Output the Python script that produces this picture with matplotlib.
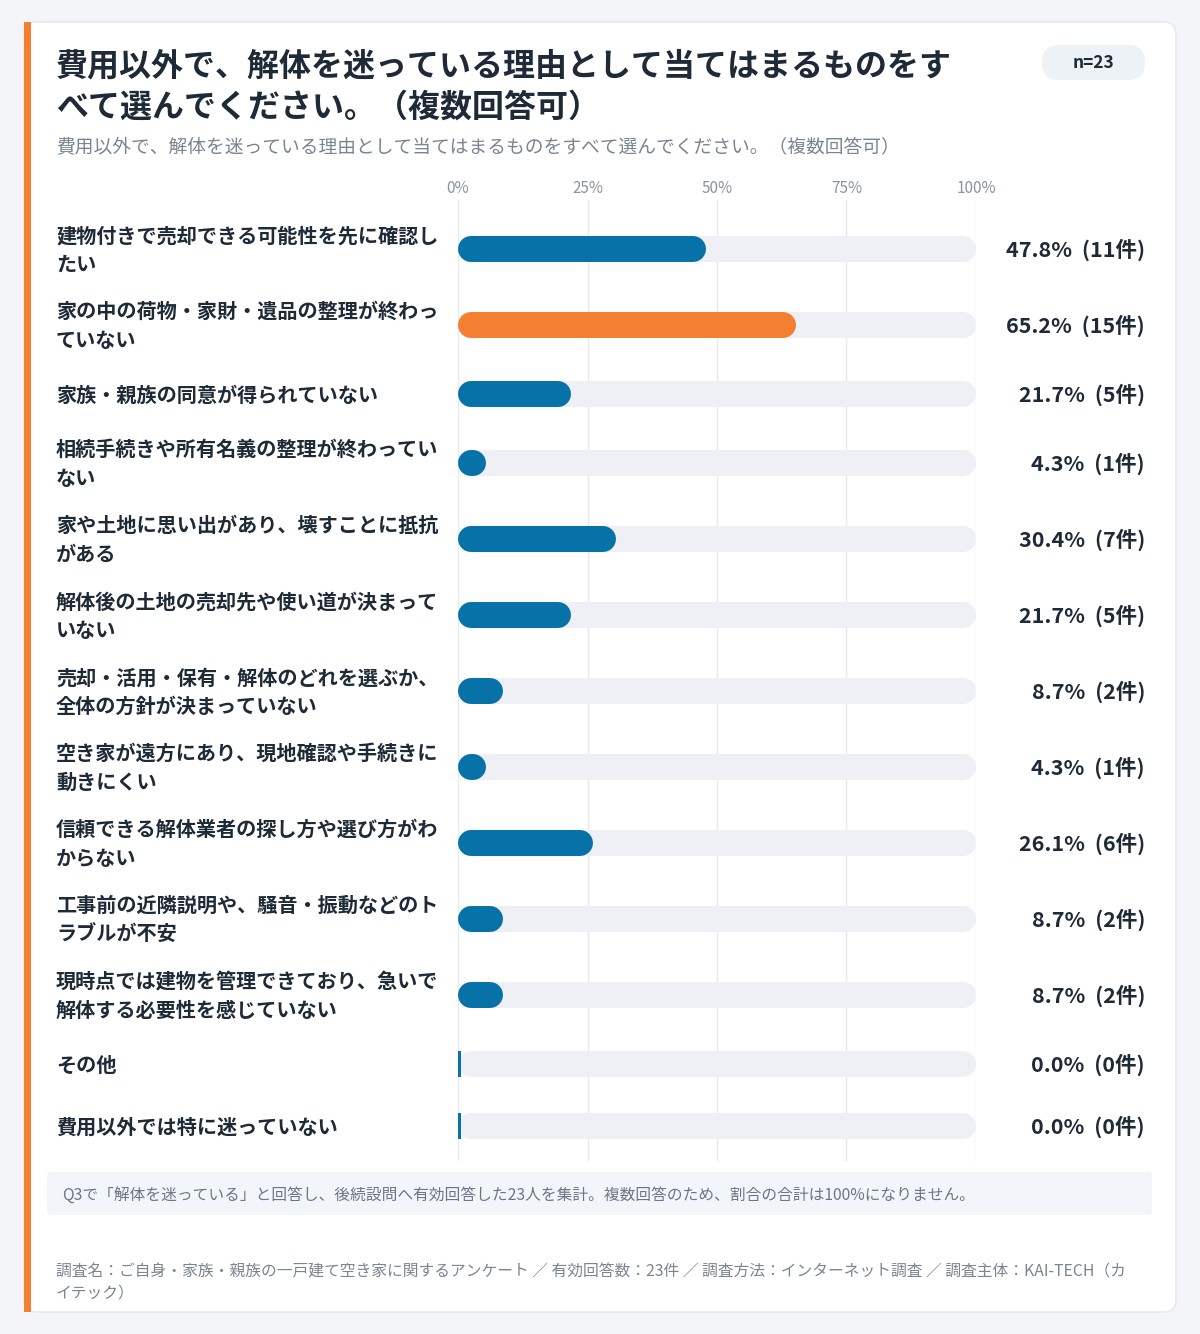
import matplotlib
matplotlib.use("Agg")
import matplotlib.pyplot as plt
from matplotlib.patches import FancyBboxPatch, Rectangle

plt.rcParams['font.family'] = ['Noto Sans CJK JP', 'DejaVu Sans']
plt.rcParams['path.simplify'] = False

# ---------------- data ----------------
title = "費用以外で、解体を迷っている理由として当てはまるものをす\nべて選んでください。（複数回答可）"
subtitle = "費用以外で、解体を迷っている理由として当てはまるものをすべて選んでください。（複数回答可）"
badge = "n=23"
categories = [
    "建物付きで売却できる可能性を先に確認し\nたい",
    "家の中の荷物・家財・遺品の整理が終わっ\nていない",
    "家族・親族の同意が得られていない",
    "相続手続きや所有名義の整理が終わってい\nない",
    "家や土地に思い出があり、壊すことに抵抗\nがある",
    "解体後の土地の売却先や使い道が決まって\nいない",
    "売却・活用・保有・解体のどれを選ぶか、\n全体の方針が決まっていない",
    "空き家が遠方にあり、現地確認や手続きに\n動きにくい",
    "信頼できる解体業者の探し方や選び方がわ\nからない",
    "工事前の近隣説明や、騒音・振動などのト\nラブルが不安",
    "現時点では建物を管理できており、急いで\n解体する必要性を感じていない",
    "その他",
    "費用以外では特に迷っていない",
]
counts = [11, 15, 5, 1, 7, 5, 2, 1, 6, 2, 2, 0, 0]
total = 23
tick_values = [0, 25, 50, 75, 100]
tick_labels = ["0%", "25%", "50%", "75%", "100%"]
note = "Q3で「解体を迷っている」と回答し、後続設問へ有効回答した23人を集計。複数回答のため、割合の合計は100%になりません。"
footer = "調査名：ご自身・家族・親族の一戸建て空き家に関するアンケート ／ 有効回答数：23件 ／ 調査方法：インターネット調査 ／ 調査主体：KAI-TECH（カ\nイテック）"

pcts = [c / total * 100 for c in counts]

# ---------------- style ----------------
W, H = 1200, 1334
DPI = 100
BG = "#f4f5f9"
CARD = "#ffffff"
ORANGE = "#f47f30"
BLUE = "#0672a8"
TRACK = "#eef0f5"
GRID = "#e6e9ef"
DARK = "#1f2a37"
GREY = "#7b8590"

fig = plt.figure(figsize=(W / DPI, H / DPI), dpi=DPI)
fig.patch.set_facecolor(BG)

# overlay axes in pixel coordinates
ov = fig.add_axes([0, 0, 1, 1], zorder=0)
ov.set_xlim(0, W)
ov.set_ylim(H, 0)
ov.axis("off")

ov.add_patch(FancyBboxPatch((24, 22), 1152, 1290, boxstyle="round,pad=0,rounding_size=12",
                            facecolor=CARD, edgecolor="#e4e6eb", linewidth=1.0))
ov.add_patch(Rectangle((24, 22), 7, 1290, facecolor=ORANGE, edgecolor="none"))

ov.text(56, 87, title, fontsize=23, fontweight="bold", color=DARK, va="center", ha="left",
        linespacing=1.38)
ov.text(56, 148, subtitle, fontsize=13.5, color=GREY, va="center", ha="left")

ov.add_patch(FancyBboxPatch((1042, 45), 103, 35, boxstyle="round,pad=0,rounding_size=17",
                            facecolor="#edf2f6", edgecolor="none"))
ov.text(1093.5, 62.5, badge, fontsize=12.5, fontweight="bold", color=DARK, ha="center", va="center")

# row layout derived from label line counts
row_h = {1: 62, 2: 76}
centers = []
ypos = 211
for lab in categories:
    h = row_h[lab.count("\n") + 1]
    centers.append(ypos + h / 2)
    ypos += h

# bar axes
x0_px, x1_px = 458, 976
top_px, bot_px = 200, 1161
ax = fig.add_axes([x0_px / W, 1 - bot_px / H, (x1_px - x0_px) / W, (bot_px - top_px) / H], zorder=1)
ax.set_facecolor("none")
ax.set_xlim(0, 100)
ax.set_ylim(bot_px, top_px)
for s in ax.spines.values():
    s.set_visible(False)
ax.set_yticks([])
ax.xaxis.tick_top()
ax.set_xticks(tick_values)
ax.set_xticklabels(tick_labels, fontsize=11, color="#8a94a0")
ax.tick_params(axis="x", length=0, pad=2)
for tv in tick_values:
    ax.axvline(tv, color=GRID, linewidth=1.0, zorder=0)

bar_px = 26
lw_pt = bar_px * 72 / DPI
r = (bar_px / 2) / (x1_px - x0_px) * 100
imax = pcts.index(max(pcts))
for i, (y, p) in enumerate(zip(centers, pcts)):
    ax.plot([r, 100 - r], [y, y], color=TRACK, linewidth=lw_pt, solid_capstyle="round", zorder=1)
    col = ORANGE if i == imax else BLUE
    if p > 0:
        ax.plot([r, max(p - r, r + 0.3)], [y, y], color=col, linewidth=lw_pt,
                solid_capstyle="round", zorder=2)
    else:
        ax.barh(y, 0.5, height=bar_px, left=0, color=col, zorder=2)

for lab, y, p, c in zip(categories, centers, pcts, counts):
    ov.text(56, y + 1, lab, fontsize=14.5, fontweight="bold", color=DARK, ha="left", va="center",
            linespacing=1.45)
    ov.text(1145, y + 1, f"{p:.1f}%  ({c}件)", fontsize=15.5, fontweight="bold", color=DARK,
            ha="right", va="center")

# note box
ov.add_patch(FancyBboxPatch((47, 1172), 1105, 43, boxstyle="round,pad=0,rounding_size=4",
                            facecolor="#f2f6fb", edgecolor="none"))
ov.text(62, 1196, note, fontsize=11.3, color="#6b7683", ha="left", va="center")

ov.text(56, 1283, footer, fontsize=11.35, color=GREY, ha="left", va="center", linespacing=1.45)

fig.savefig("out.png", dpi=DPI, facecolor=BG)
